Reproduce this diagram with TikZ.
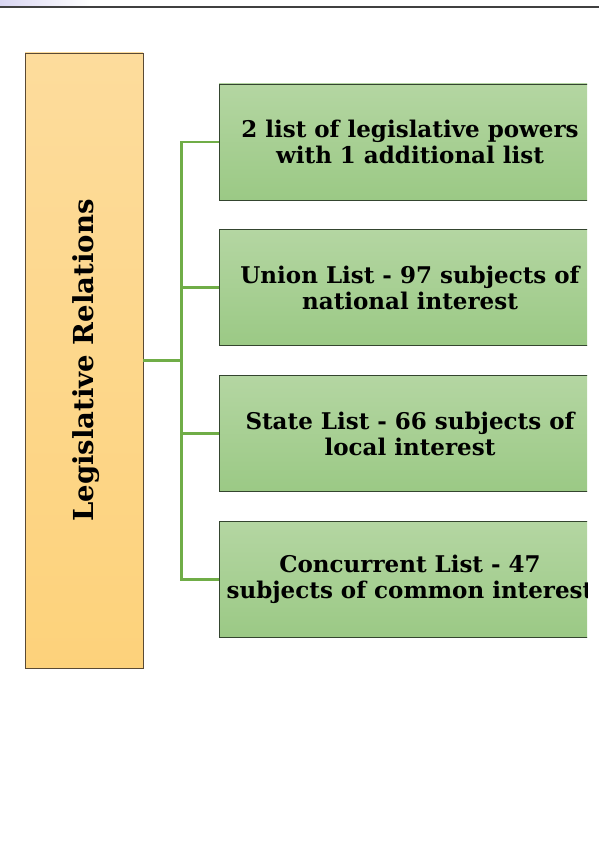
\documentclass[tikz,border=0pt]{standalone}
\usepackage{fontspec}
\setmainfont{DejaVu Serif}
\definecolor{PeachTop}{HTML}{FDDC9C}
\definecolor{PeachBottom}{HTML}{FDD27B}
\definecolor{EdgeBrown}{HTML}{5A4A35}
\definecolor{GreenTop}{HTML}{B4D6A2}
\definecolor{GreenBottom}{HTML}{9BC985}
\definecolor{EdgeDark}{HTML}{34452F}
\definecolor{LinkGreen}{HTML}{70AD47}
\definecolor{Lavender}{HTML}{D9D6F2}
\usetikzlibrary{positioning}
\tikzset{
  mainbox/.style={draw=EdgeBrown, line width=0.8pt, top color=PeachTop, bottom color=PeachBottom, minimum width=118pt, minimum height=615pt, inner sep=0pt},
  listbox/.style={draw=EdgeDark, line width=0.8pt, top color=GreenTop, bottom color=GreenBottom, minimum width=382pt, minimum height=116pt, inner sep=0pt, align=center, font=\bfseries\fontsize{23}{26}\selectfont},
  conn/.style={draw=LinkGreen, line width=2.2pt}
}

\begin{document}
\begin{tikzpicture}[x=1pt, y=-1pt]
\useasboundingbox (0,0) rectangle (599,842);
\fill[left color=Lavender, right color=white] (0,0) rectangle (90,6);
\draw[line width=1.3pt, draw=black!75] (0,7) -- (599,7);
\node[mainbox] (rel) at (84,360.5) {};
\node[rotate=90, font=\bfseries\fontsize{27.5}{30}\selectfont] (reltext) at (86,360.5) {Legislative Relations};
\begin{scope}
\clip (0,0) rectangle (587,842);
\node[listbox] (l1) at (410,142) {2 list of legislative powers\\with 1 additional list};
\node[listbox] (l2) at (410,287.5) {Union List - 97 subjects of\\national interest};
\node[listbox] (l3) at (410,433.5) {State List - 66 subjects of\\local interest};
\node[listbox] (l4) at (410,579.5) {Concurrent List - 47\\subjects of common interest};
\end{scope}
\draw[conn] (rel.east) -- ++(38,0) coordinate (trunk);
\foreach \i in {1,...,4}
  \draw[conn] (trunk) |- (l\i.west);
\end{tikzpicture}
\end{document}
